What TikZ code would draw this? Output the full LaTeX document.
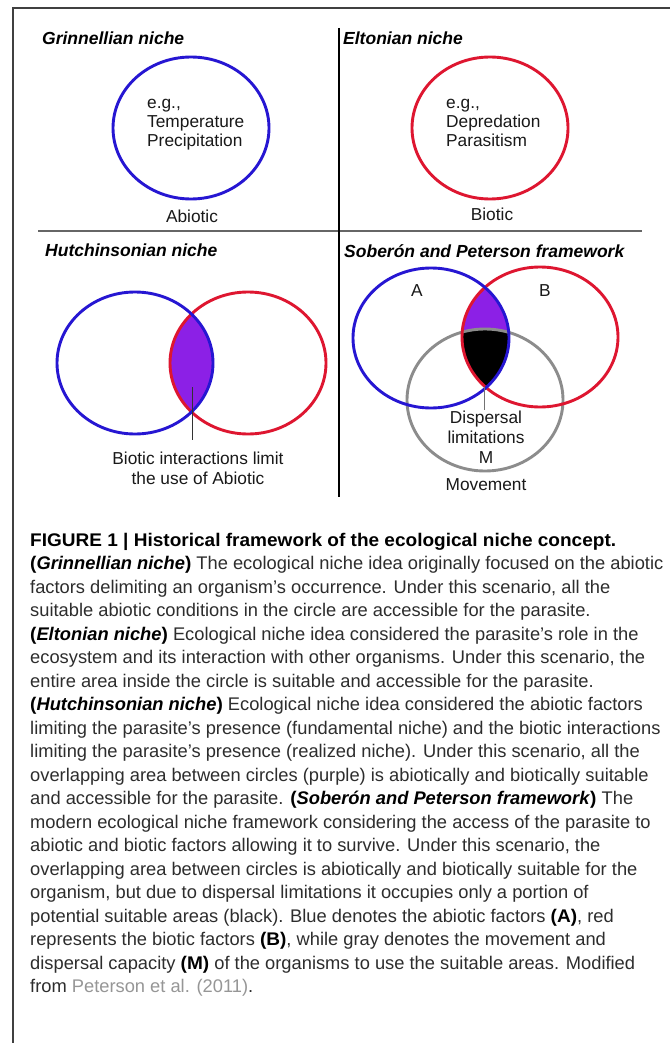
\documentclass[tikz,border=0pt]{standalone}
\usepackage{fontspec}
\setmainfont[BoldFeatures={FakeStretch=1.04}]{Liberation Sans}
\newfontfamily\figfont{Liberation Sans}
\definecolor{cblue}{RGB}{38,22,210}
\definecolor{cred}{RGB}{222,22,48}
\definecolor{cpurple}{RGB}{140,32,230}
\definecolor{cgray}{RGB}{140,140,140}
\definecolor{ctext}{RGB}{45,45,45}
\definecolor{clink}{RGB}{150,150,150}
\newcommand\capbi[1]{\textcolor{black}{\textbf{(\textit{#1})}}}
\newcommand\capb[1]{\textcolor{black}{\textbf{#1}}}
\begin{document}
\begin{tikzpicture}[x=1pt,y=-1pt,
  ttl/.style={font=\figfont\fontsize{17.5}{20}\selectfont\bfseries\itshape, anchor=base west, inner sep=0pt},
  lbl/.style={font=\figfont\fontsize{17.3}{19}\selectfont, inner sep=0pt, text=black!90},
  captxt/.style={font=\fontsize{18.3}{22}\selectfont, anchor=base west, inner sep=0pt, text=ctext},
  ring/.style={line width=2.9pt},
  conn/.style={line width=1pt, draw=black!80}]
\useasboundingbox (0,0) rectangle (670,1043);
\fill[white] (0,0) rectangle (670,1043);
% frame and dividers
\draw[line width=2pt, black!75] (13,1043) -- (13,8) -- (670,8);
\draw[line width=2pt, black!60] (38,231) -- (642,231);
\draw[line width=1.6pt, black] (339,28) -- (339,497);
% titles
\node[ttl] (t1) at (42,45) {Grinnellian niche};
\node[ttl] (t2) at (343,45) {Eltonian niche};
\node[ttl] (t3) at (45,256) {Hutchinsonian niche};
\node[ttl] (t4) at (344,257) {Soberón and Peterson framework};
% Grinnellian
\draw[ring, cblue] (191,128) ellipse [x radius=78pt, y radius=71pt];
\node[lbl, anchor=base west] (g1) at (147,109) {e.g.,};
\node[lbl, anchor=base west] (g2) at (147,128) {Temperature};
\node[lbl, anchor=base west] (g3) at (147,147) {Precipitation};
\node[lbl, anchor=base] (g4) at (192,222) {Abiotic};
% Eltonian
\draw[ring, cred] (490,128) ellipse [x radius=78pt, y radius=71pt];
\node[lbl, anchor=base west] (e1) at (446,109) {e.g.,};
\node[lbl, anchor=base west] (e2) at (446,128) {Depredation};
\node[lbl, anchor=base west] (e3) at (446,147) {Parasitism};
\node[lbl, anchor=base] (e4) at (492,220) {Biotic};
% Hutchinsonian
\begin{scope}
  \clip (135,363) ellipse [x radius=78pt, y radius=71pt];
  \fill[cpurple] (248,363) ellipse [x radius=78pt, y radius=71pt];
\end{scope}
\draw[ring, cred] (248,363) ellipse [x radius=78pt, y radius=71pt];
\draw[ring, cblue] (135,363) ellipse [x radius=78pt, y radius=71pt];
\coordinate (h1) at (192,387);
\coordinate (h2) at (192,440);
\draw[conn] (h1) -- (h2);
\node[lbl, anchor=base] (h3) at (198,464) {Biotic interactions limit};
\node[lbl, anchor=base] (h4) at (198,484) {the use of Abiotic};
% Soberon and Peterson
\begin{scope}
  \clip (431,338) ellipse [x radius=78pt, y radius=70pt];
  \clip (540,337) ellipse [x radius=78pt, y radius=70pt];
  \fill[cpurple] (380,250) rectangle (600,420);
  \fill[black] (485,400) ellipse [x radius=78pt, y radius=71pt];
\end{scope}
\draw[ring, cgray] (485,400) ellipse [x radius=78pt, y radius=71pt];
\draw[ring, cred] (540,337) ellipse [x radius=78pt, y radius=70pt];
\draw[ring, cblue] (431,338) ellipse [x radius=78pt, y radius=70pt];
\node[lbl, anchor=base] (sa) at (417,296) {A};
\node[lbl, anchor=base] (sb) at (545,296) {B};
\coordinate (s1) at (484,387);
\coordinate (s2) at (484,410);
\draw[conn, black!55] (s1) -- (s2);
\node[lbl, anchor=base] (s3) at (486,423) {Dispersal};
\node[lbl, anchor=base] (s4) at (486,443) {limitations};
\node[lbl, anchor=base] (s5) at (486,463) {M};
\node[lbl, anchor=base] (s6) at (486,490) {Movement};
% caption
\node[captxt] (c1) at (30,546) {\capb{FIGURE 1 | Historical framework of the ecological niche concept.}};
\node[captxt] (c2) at (30,569.5) {\capbi{Grinnellian niche} The ecological niche idea originally focused on the abiotic};
\node[captxt] (c3) at (30,593) {factors delimiting an organism’s occurrence. Under this scenario, all the};
\node[captxt] (c4) at (30,616.5) {suitable abiotic conditions in the circle are accessible for the parasite.};
\node[captxt] (c5) at (30,640) {\capbi{Eltonian niche} Ecological niche idea considered the parasite’s role in the};
\node[captxt] (c6) at (30,663.5) {ecosystem and its interaction with other organisms. Under this scenario, the};
\node[captxt] (c7) at (30,687) {entire area inside the circle is suitable and accessible for the parasite.};
\node[captxt] (c8) at (30,710.5) {\capbi{Hutchinsonian niche} Ecological niche idea considered the abiotic factors};
\node[captxt] (c9) at (30,734) {limiting the parasite’s presence (fundamental niche) and the biotic interactions};
\node[captxt] (c10) at (30,757.5) {limiting the parasite’s presence (realized niche). Under this scenario, all the};
\node[captxt] (c11) at (30,781) {overlapping area between circles (purple) is abiotically and biotically suitable};
\node[captxt] (c12) at (30,804.5) {and accessible for the parasite. \capbi{Soberón and Peterson framework} The};
\node[captxt] (c13) at (30,828) {modern ecological niche framework considering the access of the parasite to};
\node[captxt] (c14) at (30,851.5) {abiotic and biotic factors allowing it to survive. Under this scenario, the};
\node[captxt] (c15) at (30,875) {overlapping area between circles is abiotically and biotically suitable for the};
\node[captxt] (c16) at (30,898.5) {organism, but due to dispersal limitations it occupies only a portion of};
\node[captxt] (c17) at (30,922) {potential suitable areas (black). Blue denotes the abiotic factors \capb{(A)}, red};
\node[captxt] (c18) at (30,945.5) {represents the biotic factors \capb{(B)}, while gray denotes the movement and};
\node[captxt] (c19) at (30,969) {dispersal capacity \capb{(M)} of the organisms to use the suitable areas. Modified};
\node[captxt] (c20) at (30,992.5) {from \textcolor{clink}{Peterson et al. (2011)}.};
\end{tikzpicture}
\end{document}
